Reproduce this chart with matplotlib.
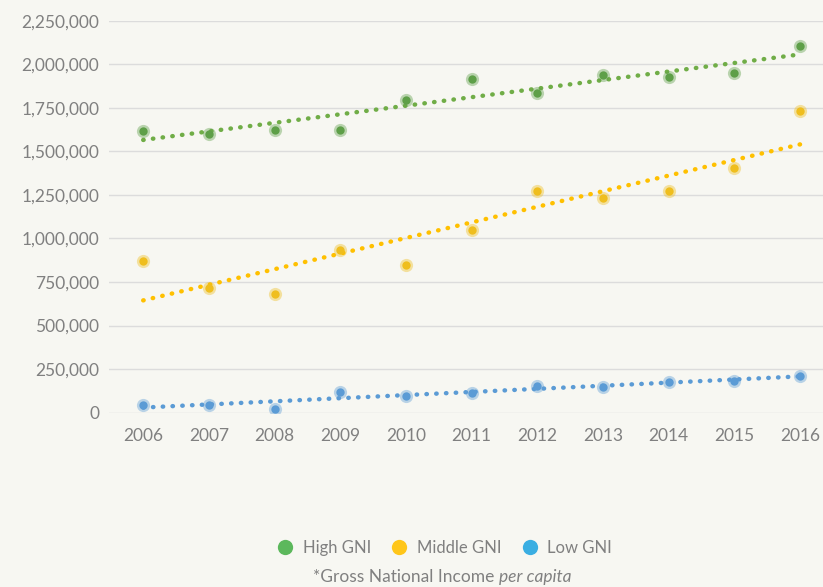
import numpy as np
import matplotlib.pyplot as plt
from matplotlib.ticker import FuncFormatter
from matplotlib.lines import Line2D

# Data
years = [2006, 2007, 2008, 2009, 2010, 2011, 2012, 2013, 2014, 2015, 2016]
high_gni = [1615000, 1600000, 1625000, 1625000, 1793000, 1915000,
            1835000, 1936000, 1927000, 1948000, 2103000]
middle_gni = [870000, 717000, 684000, 933000, 849000, 1046000,
              1273000, 1233000, 1273000, 1407000, 1730000]
low_gni = [42000, 44000, 23000, 117000, 96000, 115000,
           155000, 147000, 178000, 180000, 210000]
series_names = ["High GNI", "Middle GNI", "Low GNI"]

BG = "#f7f7f2"
POINT_COLORS = ["#5e9f48", "#efbe1e", "#5b9bd5"]
TREND_COLORS = ["#70ad47", "#ffc000", "#5b9bd5"]
LEGEND_COLORS = ["#5cb85c", "#ffc61a", "#3aaee2"]
TEXT = "#808080"

plt.rcParams['font.family'] = ['Lato', 'DejaVu Sans']

fig = plt.figure(figsize=(8.23, 5.87), dpi=100, facecolor=BG)
ax = fig.add_axes([0.1325, 0.297, 0.8675, 0.6677], facecolor=BG)

x = np.array(years, dtype=float)
for vals, pc, tc in zip([high_gni, middle_gni, low_gni], POINT_COLORS, TREND_COLORS):
    y = np.array(vals, dtype=float)
    # linear trendline
    k, b = np.polyfit(x, y, 1)
    ax.plot(x, k * x + b, color=tc, linestyle=(0, (0.1, 2.1)), linewidth=3.2,
            dash_capstyle='round', zorder=3)
    # points with a soft halo
    ax.scatter(x, y, s=90, color=pc, alpha=0.4, linewidths=0, zorder=4)
    ax.scatter(x, y, s=36, color=pc, linewidths=0, zorder=5)

ax.set_xlim(2005.48, 2016.35)
ax.set_ylim(0, 2250000)
ax.set_xticks(years)
ax.set_yticks(np.arange(0, 2250001, 250000))
ax.yaxis.set_major_formatter(FuncFormatter(lambda v, p: f"{int(v):,}"))
ax.grid(axis='y', color="#dcdcdc", linewidth=1)
ax.set_axisbelow(True)
for s in ax.spines.values():
    s.set_visible(False)
ax.tick_params(length=0, labelsize=12.5, colors=TEXT)
ax.tick_params(axis='x', pad=11)
ax.tick_params(axis='y', pad=7)

handles = [Line2D([], [], marker='o', linestyle='none', markersize=11,
                  markerfacecolor=c, markeredgewidth=0) for c in LEGEND_COLORS]
fig.legend(handles, series_names, loc='center', bbox_to_anchor=(0.535, 0.066),
           ncol=3, frameon=False, fontsize=12, labelcolor=TEXT,
           handletextpad=0.05, columnspacing=0.7)

fig.text(0.606, 0.017, "*Gross National Income ", ha='right', va='center',
         fontsize=12.5, color=TEXT)
fig.text(0.606, 0.017, "per capita", ha='left', va='center',
         fontsize=12.5, color=TEXT, style='italic')

fig.savefig("out.png", dpi=100, facecolor=BG)
